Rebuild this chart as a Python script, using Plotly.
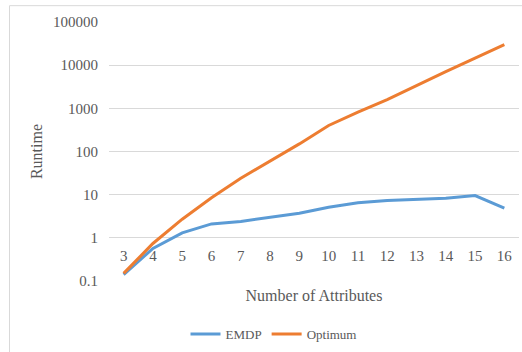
import plotly.graph_objects as go

# Number of attributes on the category axis
attributes = [3, 4, 5, 6, 7, 8, 9, 10, 11, 12, 13, 14, 15, 16]

# Runtime of each method (log scale)
emdp = [0.14, 0.57, 1.3, 2.1, 2.4, 3.0, 3.7, 5.1, 6.5, 7.3, 7.7, 8.3, 9.5, 4.9]
optimum = [0.15, 0.74, 2.7, 8.5, 24, 60, 150, 400, 820, 1600, 3400, 7100, 14600, 30000]

y_ticks = [0.1, 1, 10, 100, 1000, 10000, 100000]
y_tick_labels = ["0.1", "1", "10", "100", "1000", "10000", "100000"]

FONT = "Liberation Serif, Times New Roman, serif"
GREY = "#595959"
GRID = "#d9d9d9"

x_labels = [str(a) for a in attributes]

fig = go.Figure()
fig.add_trace(go.Scatter(x=x_labels, y=emdp, mode="lines", name="EMDP",
                         line=dict(color="#5B9BD5", width=3)))
fig.add_trace(go.Scatter(x=x_labels, y=optimum, mode="lines", name="Optimum",
                         line=dict(color="#ED7D31", width=3)))

fig.update_layout(
    width=522, height=352,
    margin=dict(l=109, r=3, t=22, b=69),
    paper_bgcolor="white", plot_bgcolor="white",
    font=dict(family=FONT, color=GREY),
    showlegend=True,
    legend=dict(orientation="h", x=0.1866, xanchor="left", y=-0.147, yanchor="top",
                font=dict(family=FONT, size=13, color=GREY), bgcolor="rgba(0,0,0,0)",
                itemwidth=30, traceorder="normal"),
    xaxis=dict(
        type="category", range=[-0.5, len(attributes) - 0.5],
        anchor="free", position=1/6,
        showgrid=False, showline=False, zeroline=False, ticks="",
        tickfont=dict(family=FONT, size=15, color=GREY),
        ticklabelstandoff=7,
        title=dict(text="Number of Attributes", font=dict(family=FONT, size=16, color=GREY),
                   standoff=26),
    ),
    yaxis=dict(
        type="log", range=[-1, 5],
        tickmode="array", tickvals=y_ticks, ticktext=y_tick_labels,
        showgrid=True, gridcolor=GRID, gridwidth=1,
        showline=False, zeroline=False, ticks="",
        tickfont=dict(family=FONT, size=15, color=GREY),
        ticklabelstandoff=10,
        title=dict(text="Runtime", font=dict(family=FONT, size=16, color=GREY), standoff=6),
    ),
    shapes=[dict(type="rect", xref="paper", yref="paper",
                 x0=-0.2427, x1=1.2, y0=-0.5, y1=1.063,
                 line=dict(color=GRID, width=1), fillcolor="rgba(0,0,0,0)", layer="below")],
)

fig.write_html("out.html")
